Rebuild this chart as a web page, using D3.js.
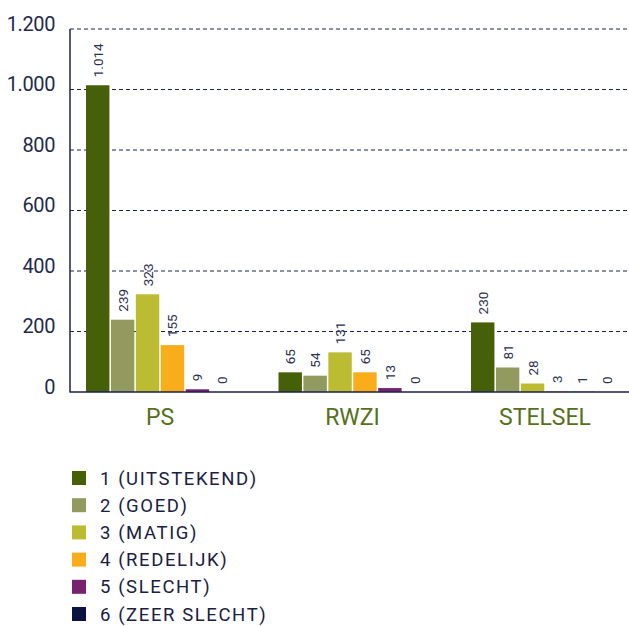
<!DOCTYPE html>
<html>
<head>
<meta charset="utf-8">
<script src="https://cdn.jsdelivr.net/npm/d3@7"></script>
<style>
  body { margin: 0; background: #fff; }
  text { font-family: Roboto, "DejaVu Sans", sans-serif; }
</style>
</head>
<body>
<svg width="629" height="626"></svg>
<script>
// categories and series
const categories = ["PS", "RWZI", "STELSEL"];
const seriesNames = ["1 (UITSTEKEND)", "2 (GOED)", "3 (MATIG)", "4 (REDELIJK)", "5 (SLECHT)", "6 (ZEER SLECHT)"];
const colors = ["#466009", "#939a5f", "#bcbc33", "#f9ad1b", "#78226f", "#0b1340"];
// values per series, in category order
const s1 = [1014, 65, 230];
const s2 = [239, 54, 81];
const s3 = [323, 131, 28];
const s4 = [155, 65, 3];
const s5 = [9, 13, 1];
const s6 = [0, 0, 0];
const yTicks = [0, 200, 400, 600, 800, 1000, 1200];

const series = [s1, s2, s3, s4, s5, s6];
const fmt = d3.formatLocale({decimal: ",", thousands: ".", grouping: [3], currency: ["", ""]}).format(",d");

let svg = d3.select('svg');

// scales
let yScale = d3.scaleLinear().domain([0, 1200]).range([392, 29]);
let x0 = d3.scaleBand().domain(categories).range([86, 86 + 3 * 192.5]);
let x1 = d3.scaleBand().domain(d3.range(6)).range([0, 148]).paddingInner(0.06);

// gridlines
let grid = svg.append('g');
grid.selectAll('line').data(yTicks.filter(d => d > 0)).join('line')
  .attr('x1', 70).attr('x2', 629)
  .attr('y1', d => yScale(d)).attr('y2', d => yScale(d))
  .attr('stroke', '#1b2150').attr('stroke-width', 1)
  .attr('stroke-dasharray', '4,3');

// tick labels
svg.append('g').selectAll('text').data(yTicks).join('text')
  .attr('x', 55).attr('y', d => yScale(d) + 1.5)
  .attr('text-anchor', 'end')
  .attr('font-size', 20)
  .attr('letter-spacing', -0.4)
  .attr('fill', '#23294a')
  .text(d => fmt(d));

// bars
let groups = svg.append('g').selectAll('g').data(categories).join('g')
  .attr('transform', d => `translate(${x0(d)},0)`);

groups.selectAll('rect')
  .data((c, ci) => series.map((s, si) => ({si: si, v: s[ci]})))
  .join('rect')
  .attr('x', d => x1(d.si))
  .attr('width', x1.bandwidth())
  .attr('y', d => yScale(d.v))
  .attr('height', d => yScale(0) - yScale(d.v))
  .attr('fill', d => colors[d.si]);

// value labels, rotated
groups.selectAll('text.val')
  .data((c, ci) => series.map((s, si) => ({si: si, v: s[ci]})))
  .join('text')
  .attr('class', 'val')
  .attr('transform', d => `translate(${x1(d.si) + x1.bandwidth() / 2 + 5},${yScale(d.v) - 8}) rotate(-90)`)
  .attr('font-size', 13.5)
  .attr('fill', '#2b3050')
  .text(d => fmt(d.v));

// axes lines
svg.append('line').attr('x1', 70).attr('x2', 70).attr('y1', 29).attr('y2', 392.5)
  .attr('stroke', '#1b2150').attr('stroke-width', 1.5);
svg.append('line').attr('x1', 70).attr('x2', 629).attr('y1', 392).attr('y2', 392)
  .attr('stroke', '#1b2150').attr('stroke-width', 1.5);

// category labels
svg.append('g').selectAll('text').data(categories).join('text')
  .attr('x', d => x0(d) + 74).attr('y', 425)
  .attr('text-anchor', 'middle')
  .attr('font-size', 23)
  .attr('fill', '#56701c')
  .text(d => d);

// legend
let legend = svg.append('g').selectAll('g').data(seriesNames).join('g')
  .attr('transform', (d, i) => `translate(72,${478 + i * 27.2})`);
legend.append('rect').attr('x', 0).attr('y', -7).attr('width', 14).attr('height', 14)
  .attr('fill', (d, i) => colors[i]);
legend.append('text').attr('x', 28).attr('y', 6.5)
  .attr('font-size', 18.5)
  .attr('letter-spacing', 1.6)
  .attr('fill', '#1a2040')
  .text(d => d);
</script>
</body>
</html>
